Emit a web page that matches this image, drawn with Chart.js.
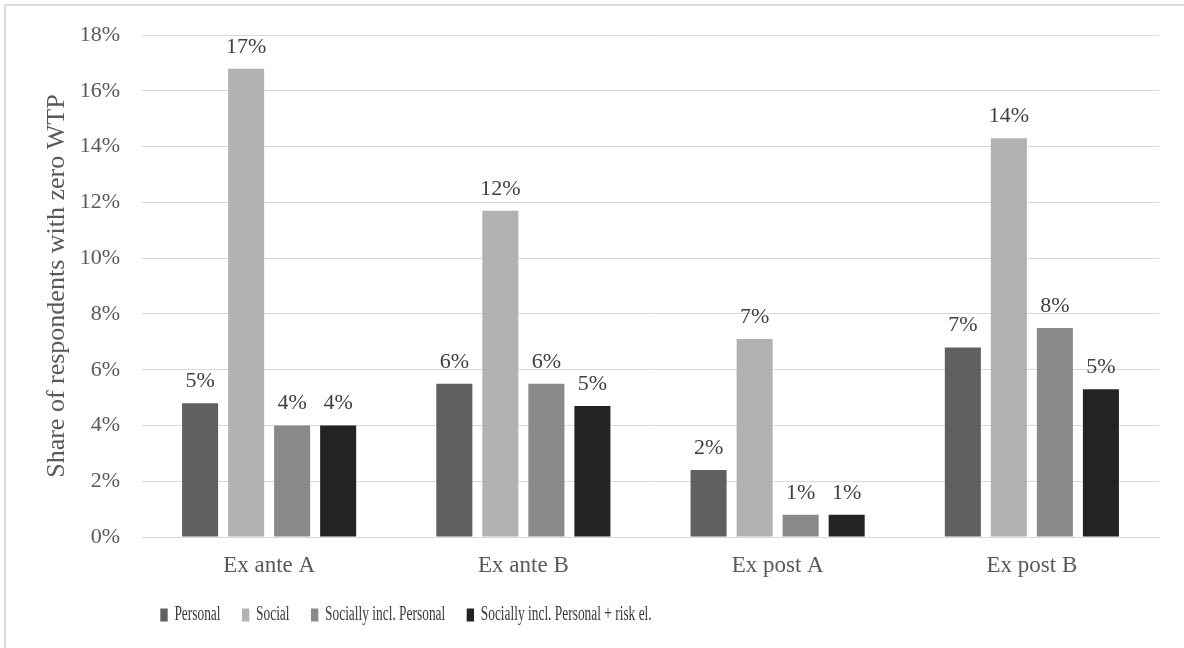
<!DOCTYPE html>
<html>
<head>
<meta charset="utf-8">
<script src="https://cdn.jsdelivr.net/npm/chart.js@4"></script>
<style>
  html, body { margin: 0; padding: 0; background: #fff; overflow: hidden; }
  #wrap { position: relative; width: 1184px; height: 648px; }
  #frame { position: absolute; left: 4px; top: 4px; width: 1300px; height: 800px; border: 2px solid #dcdcdc; box-sizing: border-box; }
  canvas { position: absolute; left: 0; top: 0; }
</style>
</head>
<body>
<div id="wrap">
  <div id="frame"></div>
  <canvas id="c" width="1184" height="648"></canvas>
</div>
<script>
const categories = ["Ex ante A", "Ex ante B", "Ex post A", "Ex post B"];
const seriesNames = ["Personal", "Social", "Socially incl. Personal", "Socially incl. Personal + risk el."];
const personal = [4.8, 5.5, 2.4, 6.8];
const social = [16.8, 11.7, 7.1, 14.3];
const sociallyInclPersonal = [4.0, 5.5, 0.8, 7.5];
const sociallyInclPersonalRisk = [4.0, 4.7, 0.8, 5.3];
const valueLabels = [
  ["5%", "6%", "2%", "7%"],
  ["17%", "12%", "7%", "14%"],
  ["4%", "6%", "1%", "8%"],
  ["4%", "5%", "1%", "5%"]
];
const yTicks = [0, 2, 4, 6, 8, 10, 12, 14, 16, 18];
const colors = ["#606060", "#b2b2b2", "#898989", "#232323"];

const FONT = "'Liberation Serif', 'Times New Roman', serif";

const valueLabelPlugin = {
  id: 'valueLabels',
  afterDatasetsDraw(chart) {
    const ctx = chart.ctx;
    ctx.save();
    ctx.font = "22px " + FONT;
    ctx.fillStyle = "#404040";
    ctx.textAlign = "center";
    ctx.textBaseline = "alphabetic";
    chart.data.datasets.forEach((ds, di) => {
      const meta = chart.getDatasetMeta(di);
      meta.data.forEach((bar, i) => {
        ctx.fillText(valueLabels[di][i], bar.x, bar.y - 16);
      });
    });
    ctx.restore();
  }
};

// Place the library's legend where the reference has it and draw it narrower
const LEG_CX = 406, LEG_SX = 0.67;
const legendPlacePlugin = {
  id: 'legendPlace',
  beforeLayout(chart) {
    const lg = chart.legend;
    if (lg && !lg._fitWrapped) {
      const origFit = lg.fit.bind(lg);
      lg.fit = function () { origFit(); this.height = 57; };
      lg._fitWrapped = true;
    }
  },
  afterLayout(chart) {
    const lg = chart.legend;
    if (!lg) return;
    lg.left = LEG_CX - 440; lg.right = LEG_CX + 440;
    lg.top = 573; lg.bottom = 648;
    if (!lg._narrowWrapped) {
      const orig = lg.draw.bind(lg);
      lg.draw = function () {
        const ctx = chart.ctx;
        ctx.save();
        ctx.translate(LEG_CX, 0);
        ctx.scale(LEG_SX, 1);
        ctx.translate(-LEG_CX, 0);
        orig();
        ctx.restore();
      };
      lg._narrowWrapped = true;
    }
  }
};

const datasetsValues = [personal, social, sociallyInclPersonal, sociallyInclPersonalRisk];

new Chart(document.getElementById('c'), {
  type: 'bar',
  data: {
    labels: categories,
    datasets: datasetsValues.map((vals, i) => ({
      label: seriesNames[i],
      data: vals,
      backgroundColor: colors[i],
      borderWidth: 0,
      categoryPercentage: 0.724,
      barPercentage: 0.783
    }))
  },
  options: {
    responsive: false,
    animation: false,
    devicePixelRatio: 1,
    layout: { padding: { left: 38, right: 25, top: 34, bottom: 0 } },
    plugins: {
      tooltip: { enabled: false },
      legend: {
        position: 'bottom',
        align: 'center',
        labels: {
          boxWidth: 11,
          boxHeight: 13,
          padding: 32,
          color: "#3a3a3a",
          font: { family: FONT, size: 20 }
        }
      }
    },
    scales: {
      x: {
        grid: { display: false, drawTicks: false },
        border: { display: true, color: "#d9d9d9", width: 1 },
        ticks: { color: "#595959", font: { family: FONT, size: 23 }, padding: 15 },
        afterFit(scale) { scale.height = 54; }
      },
      y: {
        min: 0,
        max: 18,
        afterBuildTicks(scale) { scale.ticks = yTicks.map(v => ({ value: v })); },
        grid: { color: "#d9d9d9", lineWidth: 1, drawTicks: false },
        border: { display: false },
        ticks: {
          color: "#595959",
          font: { family: FONT, size: 22 },
          padding: 22,
          callback: (v) => v + "%"
        },
        title: {
          display: true,
          text: "Share of respondents with zero WTP",
          color: "#595959",
          font: { family: FONT, size: 26 },
          padding: { top: 4, bottom: 0 }
        },
        afterFit(scale) { scale.width = 104; }
      }
    }
  },
  plugins: [valueLabelPlugin, legendPlacePlugin]
});
</script>
</body>
</html>
